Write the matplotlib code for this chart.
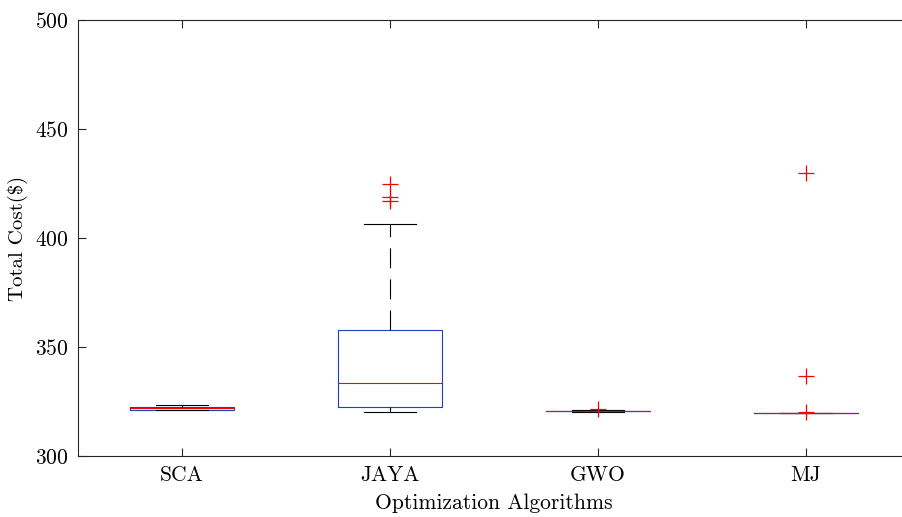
import matplotlib
matplotlib.use("Agg")
import matplotlib.pyplot as plt

# box statistics (Total Cost in $)
algorithms = ["SCA", "JAYA", "GWO", "MJ"]
medians = [321.8, 333.6, 320.6, 319.9]
q1s = [321.1, 322.6, 320.5, 319.9]
q3s = [322.6, 357.8, 320.7, 319.9]
whis_low = [321.0, 320.0, 320.0, 319.9]
whis_high = [323.2, 406.3, 321.3, 319.9]
outliers = [[], [417.0, 419.0, 424.6], [321.7], [320.3, 336.7, 430.0]]

plt.rcParams["font.family"] = "cmr10"
plt.rcParams["axes.formatter.use_mathtext"] = True
plt.rcParams["mathtext.fontset"] = "cm"

fig = plt.figure(figsize=(9.03, 5.17), dpi=100)
# axes runs a little past the right edge of the figure, like the reference
ax = fig.add_axes([78/903, 61/517, 832/903, 436/517])

stats = []
for i in range(len(algorithms)):
    stats.append(dict(label=algorithms[i], med=medians[i], q1=q1s[i], q3=q3s[i],
                      whislo=whis_low[i], whishi=whis_high[i], fliers=outliers[i]))

ax.bxp(stats, positions=[1, 2, 3, 4], widths=0.5, showfliers=True,
       boxprops=dict(color="#1f3fbf", linewidth=0.8),
       medianprops=dict(color="#ff0000", linewidth=0.8),
       whiskerprops=dict(color="black", linewidth=0.8, linestyle=(0, (18, 10))),
       capprops=dict(color="black", linewidth=0.8),
       flierprops=dict(marker="+", markeredgecolor="#ff0000", markersize=11,
                       markeredgewidth=0.9, linestyle="none"))

ax.set_xlim(0.5, 4.5)
ax.set_ylim(300, 500)
ax.set_yticks([300, 350, 400, 450, 500])
ax.tick_params(direction="in", top=True, right=True, length=6, width=0.8,
               color="#262626", labelsize=15.5, pad=7)
for s in ax.spines.values():
    s.set_color("#262626")
    s.set_linewidth(0.8)
ax.spines["right"].set_visible(False)

ax.set_xlabel("Optimization Algorithms", fontsize=15.5, labelpad=6)
ax.set_ylabel("Total Cost(\\$)", fontsize=15, labelpad=5)

fig.savefig("out.png", dpi=100)
